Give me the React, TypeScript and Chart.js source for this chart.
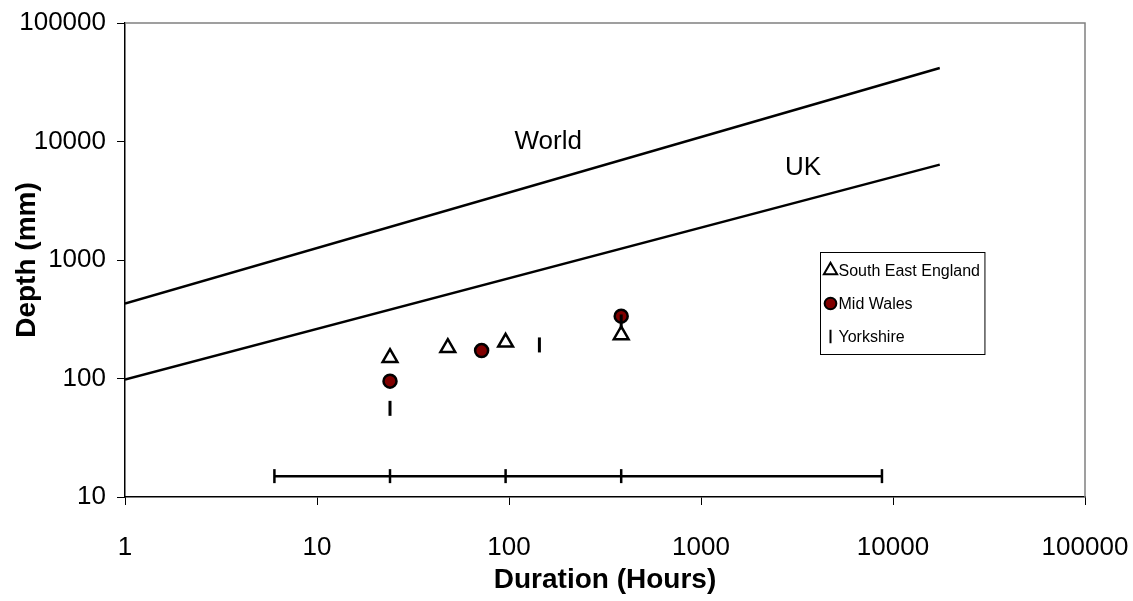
import React, { useEffect, useRef } from 'react';
import { Chart, registerables } from 'chart.js';
import { drawPoint } from 'chart.js/helpers';

Chart.register(...registerables);

const FONT = "'Liberation Sans', Arial, sans-serif";

// Axis ticks
const xTickValues = [1, 10, 100, 1000, 10000, 100000];
const yTickValues = [10, 100, 1000, 10000, 100000];

// Envelope curves (Duration hours, Depth mm)
const worldDurations = [1, 17520];
const worldDepths = [430, 41700];
const ukDurations = [1, 17520];
const ukDepths = [98, 6385];

// Duration range bar
const rangeDurations = [6, 24, 96, 384, 8760];
const rangeDepths = [15, 15, 15, 15, 15];

// Observed events
const seDurations = [24, 48, 96, 384];
const seDepths = [150, 182, 202, 233];
const walesDurations = [24, 72, 384];
const walesDepths = [95, 172, 336];
const yorkDurations = [24, 144, 384];
const yorkDepths = [56, 192, 300];

// Curve annotations
const curveLabels = ['World', 'UK'];
const curveLabelX = [160, 3400];
const curveLabelY = [10000, 6000];

const legendNames = ['South East England', 'Mid Wales', 'Yorkshire'];

const pts = (xs: number[], ys: number[]) => xs.map((x, i) => ({ x, y: ys[i] }));

const framePlugin = {
  id: 'frame',
  beforeDatasetsDraw(chart: any) {
    const { ctx, chartArea: a } = chart;
    ctx.save();
    ctx.strokeStyle = '#808080';
    ctx.lineWidth = 1.5;
    ctx.beginPath();
    ctx.moveTo(a.left, a.top);
    ctx.lineTo(a.right, a.top);
    ctx.lineTo(a.right, a.bottom);
    ctx.stroke();
    ctx.restore();
  },
};

const curveLabelPlugin = {
  id: 'curveLabels',
  afterDatasetsDraw(chart: any) {
    const { ctx, scales } = chart;
    ctx.save();
    ctx.fillStyle = '#000';
    ctx.font = `26px ${FONT}`;
    ctx.textAlign = 'center';
    ctx.textBaseline = 'middle';
    curveLabels.forEach((t, i) => {
      ctx.fillText(t, scales.x.getPixelForValue(curveLabelX[i]), scales.y.getPixelForValue(curveLabelY[i]));
    });
    ctx.restore();
  },
};

const insetLegendPlugin = {
  id: 'insetLegend',
  afterDraw(chart: any) {
    const { ctx } = chart;
    const items = legendNames
      .map((n) => chart.data.datasets.find((d: any) => d.label === n))
      .filter(Boolean);
    const left = 820.5;
    const top = 252.5;
    const rowH = 33;
    const firstRow = 18;
    const markerX = left + 10;
    const textX = left + 18;
    ctx.save();
    ctx.font = `16px ${FONT}`;
    const maxW = Math.max(...items.map((d: any) => ctx.measureText(d.label).width));
    const w = textX - left + maxW + 5;
    const h = firstRow * 2 + rowH * (items.length - 1);
    ctx.fillStyle = '#fff';
    ctx.fillRect(left, top, w, h);
    ctx.strokeStyle = '#000';
    ctx.lineWidth = 1;
    ctx.strokeRect(left, top, w, h);
    items.forEach((d: any, i: number) => {
      const y = top + firstRow + i * rowH;
      ctx.fillStyle = d.pointBackgroundColor;
      ctx.strokeStyle = d.pointBorderColor;
      ctx.lineWidth = 2;
      drawPoint(ctx, { pointStyle: d.pointStyle, rotation: d.pointRotation || 0, radius: d.pointRadius * 0.9, borderWidth: 2 }, markerX, y);
      ctx.fillStyle = '#000';
      ctx.textAlign = 'left';
      ctx.textBaseline = 'middle';
      ctx.fillText(d.label, textX, y + 1);
    });
    ctx.restore();
  },
};

export default function App() {
  const canvasRef = useRef<HTMLCanvasElement | null>(null);

  useEffect(() => {
    const canvas = canvasRef.current;
    if (!canvas) return;
    const chart = new Chart(canvas, {
      type: 'scatter',
      data: {
        datasets: [
          {
            label: 'Yorkshire',
            data: pts(yorkDurations, yorkDepths),
            pointStyle: 'line',
            pointRotation: 90,
            pointRadius: 7.5,
            pointBorderWidth: 3,
            pointBorderColor: '#000',
            pointBackgroundColor: '#000',
            showLine: false,
            order: 0,
          },
          {
            label: 'Mid Wales',
            data: pts(walesDurations, walesDepths),
            pointStyle: 'circle',
            pointRadius: 6.5,
            pointBorderWidth: 2.5,
            pointBorderColor: '#000',
            pointBackgroundColor: '#800000',
            showLine: false,
            order: 1,
          },
          {
            label: 'South East England',
            data: pts(seDurations, seDepths),
            pointStyle: 'triangle',
            pointRadius: 8.5,
            pointBorderWidth: 2.5,
            pointBorderColor: '#000',
            pointBackgroundColor: '#fff',
            showLine: false,
            order: 2,
          },
          {
            label: 'Duration range',
            data: pts(rangeDurations, rangeDepths),
            showLine: true,
            borderColor: '#000',
            borderWidth: 2.5,
            pointStyle: 'line',
            pointRotation: 90,
            pointRadius: 7,
            pointBorderWidth: 2.5,
            pointBorderColor: '#000',
            pointBackgroundColor: '#000',
            order: 3,
          },
          {
            label: 'World',
            data: pts(worldDurations, worldDepths),
            showLine: true,
            borderColor: '#000',
            borderWidth: 2.5,
            pointRadius: 0,
            order: 4,
          },
          {
            label: 'UK',
            data: pts(ukDurations, ukDepths),
            showLine: true,
            borderColor: '#000',
            borderWidth: 2.5,
            pointRadius: 0,
            order: 5,
          },
        ],
      },
      options: {
        animation: false,
        responsive: true,
        maintainAspectRatio: false,
        events: [],
        layout: { padding: { top: 23, right: 48, bottom: 0, left: 0 } },
        plugins: {
          legend: { display: false },
          tooltip: { enabled: false },
          title: { display: false },
        },
        scales: {
          x: {
            type: 'logarithmic',
            min: 1,
            max: 100000,
            afterBuildTicks: (s: any) => {
              s.ticks = xTickValues.map((v) => ({ value: v }));
            },
            afterFit: (s: any) => {
              s.height = 104;
              s.paddingLeft = 0;
              s.paddingRight = 0;
            },
            grid: { drawOnChartArea: false, drawTicks: true, tickLength: 8, color: '#000', lineWidth: 1 },
            border: { display: true, color: '#000', width: 1.5 },
            ticks: {
              color: '#000',
              font: { family: FONT, size: 26 },
              padding: 27,
              maxRotation: 0,
              autoSkip: false,
              callback: (v: any) => String(v),
            },
            title: {
              display: true,
              text: 'Duration (Hours)',
              color: '#000',
              font: { family: FONT, size: 28, weight: 'bold' },
              padding: { top: 0, bottom: 4 },
            },
          },
          y: {
            type: 'logarithmic',
            min: 10,
            max: 100000,
            afterBuildTicks: (s: any) => {
              s.ticks = yTickValues.map((v) => ({ value: v }));
            },
            afterFit: (s: any) => {
              s.width = 125;
              s.paddingTop = 0;
              s.paddingBottom = 0;
            },
            grid: { drawOnChartArea: false, drawTicks: true, tickLength: 8, color: '#000', lineWidth: 1 },
            border: { display: true, color: '#000', width: 1.5 },
            ticks: {
              color: '#000',
              font: { family: FONT, size: 26 },
              padding: 11,
              autoSkip: false,
              callback: (v: any) => String(v),
            },
            title: {
              display: true,
              text: 'Depth (mm)',
              color: '#000',
              font: { family: FONT, size: 28, weight: 'bold' },
              padding: { top: 10, bottom: 0 },
            },
          },
        },
      },
      plugins: [framePlugin, curveLabelPlugin, insetLegendPlugin],
    } as any);
    return () => chart.destroy();
  }, []);

  return (
    <div style={{ position: 'absolute', left: 0, top: 0, width: 1133, height: 601, background: '#fff' }}>
      <canvas ref={canvasRef} />
    </div>
  );
}
